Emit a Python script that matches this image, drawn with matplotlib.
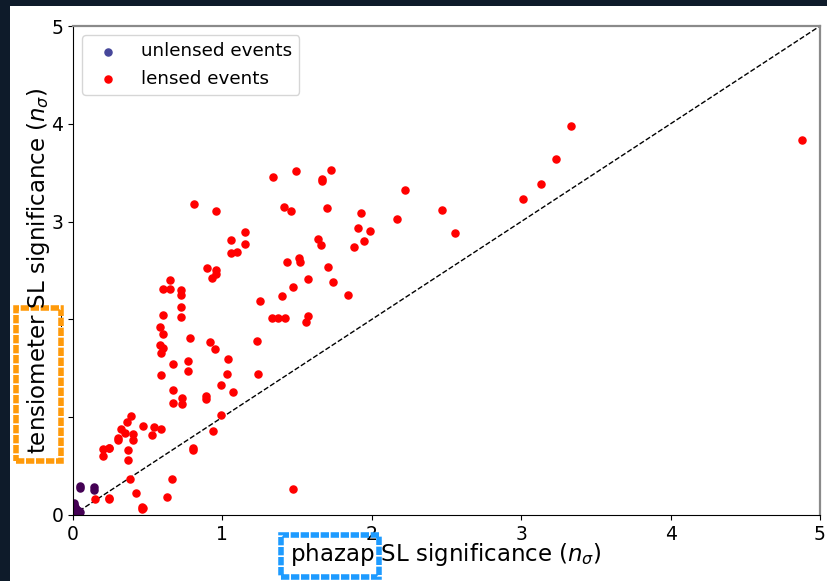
#!/usr/bin/env python3
# -*- coding: utf-8 -*-
"""
SL significance: tensiometer vs phazap, lensed / unlensed events.
"""

import numpy as np

import matplotlib
matplotlib.use("Agg")  # headless
import matplotlib.pyplot as plt
from matplotlib.patches import Rectangle


# lensed events (phazap, tensiometer) in n_sigma
lensed_x = [
    3.33, 4.88, 3.23, 3.13, 3.01, 2.47, 2.56, 2.22, 2.17, 1.93,
    1.91, 1.99, 1.95, 1.88, 1.84, 1.73, 1.67, 1.67, 1.70, 1.64,
    1.66, 1.71, 1.74, 1.49, 1.34, 1.41, 1.46, 1.43, 1.51, 1.52,
    1.57, 1.47, 1.40, 1.33, 1.37, 1.42, 1.57, 1.56, 1.25, 1.23,
    1.24, 1.47, 0.81, 0.96, 1.15, 1.15, 1.06, 1.06, 1.10, 0.90,
    0.96, 0.96, 0.93, 0.60, 0.65, 0.65, 0.72, 0.72, 0.60, 0.72,
    0.72, 0.58, 0.60, 0.58, 0.60, 0.59, 0.78, 0.92, 0.95, 0.67,
    0.59, 0.77, 0.77, 1.04, 1.03, 0.99, 1.07, 0.89, 0.89, 0.67,
    0.67, 0.73, 0.73, 0.99, 0.94, 0.39, 0.36, 0.32, 0.47, 0.54,
    0.59, 0.35, 0.40, 0.53, 0.30, 0.30, 0.40, 0.20, 0.24, 0.24,
    0.20, 0.37, 0.37, 0.80, 0.80, 0.38, 0.66, 0.42, 0.63, 0.15,
    0.24, 0.24, 0.46, 0.46, 0.47,
]
lensed_y = [
    3.98, 3.83, 3.64, 3.38, 3.23, 3.12, 2.88, 3.32, 3.03, 3.09,
    2.93, 2.90, 2.80, 2.74, 2.25, 3.53, 3.44, 3.42, 3.14, 2.82,
    2.76, 2.54, 2.38, 3.52, 3.46, 3.15, 3.11, 2.59, 2.63, 2.59,
    2.41, 2.33, 2.24, 2.01, 2.01, 2.01, 2.03, 1.97, 2.19, 1.78,
    1.44, 0.27, 3.18, 3.11, 2.89, 2.77, 2.81, 2.68, 2.69, 2.53,
    2.51, 2.46, 2.42, 2.31, 2.40, 2.31, 2.30, 2.25, 2.05, 2.13,
    2.02, 1.92, 1.85, 1.74, 1.71, 1.66, 1.81, 1.77, 1.70, 1.54,
    1.43, 1.57, 1.47, 1.59, 1.44, 1.33, 1.26, 1.22, 1.19, 1.28,
    1.15, 1.20, 1.14, 1.02, 0.86, 1.01, 0.95, 0.88, 0.91, 0.90,
    0.88, 0.84, 0.83, 0.82, 0.79, 0.77, 0.77, 0.67, 0.69, 0.68,
    0.60, 0.66, 0.56, 0.68, 0.66, 0.37, 0.37, 0.22, 0.18, 0.16,
    0.17, 0.16, 0.08, 0.06, 0.07,
]

# unlensed events, mostly piled up at the origin
unlensed_x = [0.05, 0.05, 0.14, 0.14, 0.005, 0.01, 0.015, 0.02, 0.03,
              0.04, 0.045, 0.005, 0.01, 0.0, 0.025, 0.035]
unlensed_y = [0.30, 0.28, 0.29, 0.26, 0.12, 0.10, 0.08, 0.06, 0.05,
              0.04, 0.03, 0.06, 0.03, 0.02, 0.035, 0.02]

ticks = [0, 1, 2, 3, 4, 5]

BG = "#0e1b2a"
ORANGE = "#ff9a0a"
BLUE = "#1e9bff"


def main() -> int:
    fig = plt.figure(figsize=(8.27, 5.81), dpi=100)
    fig.patch.set_facecolor(BG)
    # white "card" the chart sits on
    fig.patches.append(Rectangle((10 / 827, 0), 1, 1 - 6 / 581, transform=fig.transFigure,
                                 facecolor="white", edgecolor="none", zorder=-1))

    ax = fig.add_axes([73 / 827, 66 / 581, 747 / 827, 489 / 581])

    ax.plot([0, 5], [0, 5], ls="--", color="black", lw=1.0, zorder=1)
    ax.scatter(unlensed_x, unlensed_y, s=26, color="#440154", label="unlensed events", zorder=2)
    ax.scatter(lensed_x, lensed_y, s=26, color="red", label="lensed events", zorder=3)

    ax.set_xlim(0, 5)
    ax.set_ylim(0, 5)
    ax.set_xticks(ticks)
    ax.set_yticks(ticks)
    ax.tick_params(labelsize=13.5)
    for side in ("top", "right"):
        ax.spines[side].set_color("#8a8a8a")
        ax.spines[side].set_linewidth(1.6)

    leg = ax.legend(loc="upper left", fontsize=13.2)
    leg.legend_handles[0].set_color("#46479a")

    # axis labels as figure text so the highlight boxes can sit between them and the ticks
    fig.text(446 / 827, 1 - 555 / 581, r"phazap SL significance ($n_\sigma$)",
             ha="center", va="center", fontsize=16.5, zorder=3)
    fig.text(39 / 827, 1 - 271 / 581, r"tensiometer SL significance ($n_\sigma$)",
             ha="center", va="center", rotation=90, fontsize=16.5, zorder=3)

    fig.patches.append(Rectangle((16 / 827, 1 - 461 / 581), 45 / 827, 153 / 581,
                                 transform=fig.transFigure, facecolor="white",
                                 edgecolor=ORANGE, lw=4, ls=(0, (1.5, 0.3)), zorder=2))
    fig.patches.append(Rectangle((281 / 827, 1 - 577 / 581), 98 / 827, 42 / 581,
                                 transform=fig.transFigure, facecolor="none",
                                 edgecolor=BLUE, lw=4, ls=(0, (1.5, 0.3)), zorder=2))

    fig.savefig("out.png", dpi=100, facecolor=fig.get_facecolor())
    plt.close(fig)
    return 0


if __name__ == "__main__":
    raise SystemExit(main())
